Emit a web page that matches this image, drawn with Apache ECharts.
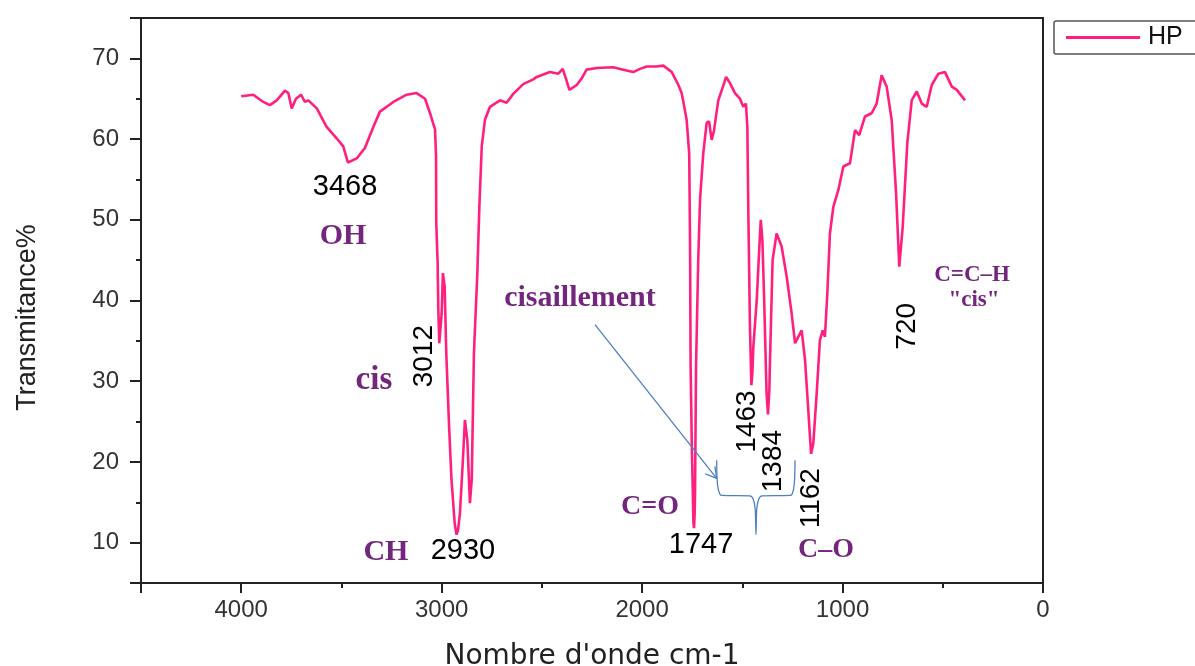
<!DOCTYPE html>
<html><head><meta charset="utf-8">
<script src="https://cdn.jsdelivr.net/npm/echarts@6/dist/echarts.min.js"></script>
<style>html,body{margin:0;padding:0;background:#fff}#c{width:1195px;height:666px}</style>
</head><body><div id="c"></div>
<script>
// ---- spectrum data (wavenumber cm-1, transmittance %) ----
const wavenumber = [4000,3970,3940,3890,3857,3823,3782,3765,3748,3727,3702,3682,3665,3623,3574,3524,3491,3468,3424,3383,3341,3308,3241,3175,3125,3083,3058,3042,3033,3028,3027,3020,3017,3012,3006,3000,2994,2985,2977,2963,2951,2935,2926,2918,2909,2895,2884,2872,2859,2850,2839,2822,2812,2800,2784,2759,2709,2676,2643,2593,2543,2526,2460,2418,2396,2380,2363,2326,2302,2277,2227,2144,2094,2044,2011,1977,1930,1894,1852,1844,1819,1803,1794,1778,1765,1761,1758,1752,1748,1744,1741,1738,1736,1731,1720,1711,1695,1678,1666,1653,1641,1620,1590,1581,1561,1537,1512,1495,1482,1475,1470,1462,1455,1450,1445,1428,1415,1408,1400,1392,1379,1372,1365,1362,1349,1329,1304,1279,1254,1237,1221,1204,1187,1171,1157,1146,1129,1113,1099,1088,1076,1063,1046,1021,996,963,938,917,888,855,830,805,780,755,733,717,700,677,655,630,605,580,555,522,489,455,430,389];
const transmittance = [65.3,65.4,65.5,64.6,64.2,64.8,66.0,65.7,63.8,65.0,65.5,64.6,64.8,63.8,61.5,60.1,59.1,57.1,57.6,58.9,61.5,63.4,64.6,65.5,65.7,65.0,63.2,61.9,61.2,57.8,49.6,44.6,39.2,34.7,36.5,38.4,43.4,41.7,33.5,24.4,17.8,12.4,11.0,11.6,13.6,19.8,25.2,22.7,14.9,17.8,33.5,43.4,51.6,59.1,62.4,64.0,64.8,64.5,65.6,66.8,67.4,67.7,68.3,68.1,68.7,67.5,66.1,66.7,67.5,68.6,68.8,68.9,68.6,68.3,68.7,69.0,69.0,69.1,68.3,68.1,66.7,65.7,64.6,62.4,58.2,47.5,31.8,22.0,17.3,12.5,11.8,13.5,16.1,31.8,45.0,52.5,58.2,62.0,62.2,59.9,61.1,64.8,67.0,67.7,66.9,65.7,65.0,64.0,64.4,61.5,50.8,36.8,29.5,31.0,34.3,40.1,46.7,50.0,47.5,40.9,28.5,25.9,29.0,32.6,45.0,48.3,46.7,43.0,38.4,34.7,35.5,36.3,32.6,26.4,21.0,22.3,28.5,35.1,36.3,35.5,40.9,48.3,51.6,53.7,56.6,57.0,61.1,60.5,62.8,63.2,64.4,67.9,66.5,62.4,53.3,44.2,49.1,59.5,64.8,65.9,64.4,64.0,66.7,68.1,68.3,66.5,66.1,64.8];

// ---- axes ----
const xRange = [0, 4500];
const yRange = [5, 75];
const xMinorStep = 500;
const yMinorStep = 5;
const xLabelValues = [4000,3000,2000,1000,0];
const yLabelValues = [10,20,30,40,50,60,70];

// ---- annotations (anchor in data units) ----
const peakNumText = ['3468','2930','1747'];
const peakNumX = [3482,2894,1706];
const peakNumY = [54.1,9.0,9.7];

const peakRotText = ['3012','1463','1384','1162','720'];
const peakRotX = [3088,1477,1347,1157,678];
const peakRotY = [33.1,25.0,20.1,15.5,36.8];

const groupText = ['OH','cis','CH','cisaillement','C=O','C–O'];
const groupX = [3492,3338,3278,2310,1961,1083];
const groupY = [47.9,30.1,8.8,40.3,14.5,9.1];

const smallText = ['C=C–H','"cis"'];
const smallX = [354,344];
const smallY = [43.2,40.1];

const arrowX = [2235,1628];
const arrowY = [37.0,17.97];
const arrowHeadX = [1684,1628,1637];
const arrowHeadY = [18.51,17.97,19.44];

const braceX = [1628,1624,1612,1600,1462,1446,1436,1432,1428,1418,1402,1264,1252,1241,1237];
const braceY = [20.2,17.2,16.0,15.85,15.8,15.4,14.2,11.0,14.2,15.4,15.8,15.85,16.0,17.2,20.2];

const purple = '#74267f';
const groupSizes = {'OH':30,'cis':33,'CH':30,'cisaillement':30,'C=O':28,'C–O':28};

function pts(xs, ys){ return xs.map((x,i)=>[x, ys[i]]); }
function labelData(xs, ys, ts){ return xs.map((x,i)=>({value:[x, ys[i]], name: ts[i]})); }

const chart = echarts.init(document.getElementById('c'));

const axisColor = '#222';
const hidden = {itemStyle:{color:'rgba(0,0,0,0)', opacity:1}, symbol:'circle', symbolSize:1, silent:true};
const gridRect = {left:141, right:152, top:18, bottom:83};

const option = {
  animation:false,
  backgroundColor:'#fff',
  grid:[
    Object.assign({show:true, borderColor:axisColor, borderWidth:2, backgroundColor:'transparent', outerBoundsMode:'none', containLabel:false}, gridRect),
    Object.assign({show:false, outerBoundsMode:'none', containLabel:false}, gridRect)
  ],
  legend:{
    data:[{name:'HP', icon:'rect'}], left:1054, top:21, itemWidth:74, itemHeight:3, itemGap:10, padding:[4,40,4,12],
    borderColor:'#555', borderWidth:1.5, borderRadius:2,
    textStyle:{fontSize:25, fontFamily:'Liberation Sans', color:'#111', padding:[0,0,0,3]}
  },
  xAxis:[
    {type:'value', gridIndex:0, min:xRange[0], max:xRange[1], splitNumber:5, inverse:true, position:'bottom',
     name:"Nombre d'onde cm-1", nameLocation:'middle', nameGap:60,
     nameTextStyle:{fontFamily:'DejaVu Sans', fontSize:28, color:'#222'},
     axisLine:{show:true, onZero:false, lineStyle:{color:axisColor, width:2}},
     axisTick:{show:true, length:10, lineStyle:{color:axisColor, width:2}},
     axisLabel:{fontSize:24, fontFamily:'Liberation Sans', color:'#333', margin:15,
       formatter:v=>xLabelValues.indexOf(v)>=0 ? String(v) : ''},
     splitLine:{show:false}},
    {type:'value', gridIndex:1, min:xRange[0], max:xRange[1], interval:xMinorStep, inverse:true, position:'bottom',
     axisLine:{show:false, onZero:false},
     axisTick:{show:true, length:5, lineStyle:{color:axisColor, width:2}},
     axisLabel:{show:false}, splitLine:{show:false}}
  ],
  yAxis:[
    {type:'value', gridIndex:0, min:yRange[0], max:yRange[1], splitNumber:7, position:'left',
     name:'Transmitance%', nameLocation:'middle', nameGap:100, nameRotate:90,
     nameTextStyle:{fontFamily:'Liberation Sans', fontSize:27, color:'#222', padding:[0,34,0,0]},
     axisLine:{show:true, onZero:false, lineStyle:{color:axisColor, width:2}},
     axisTick:{show:true, length:11, lineStyle:{color:axisColor, width:2}},
     axisLabel:{fontSize:24, fontFamily:'Liberation Sans', color:'#333', margin:22,
       formatter:v=>yLabelValues.indexOf(v)>=0 ? String(v) : ''},
     splitLine:{show:false}},
    {type:'value', gridIndex:1, min:yRange[0], max:yRange[1], interval:yMinorStep, position:'left',
     axisLine:{show:false, onZero:false},
     axisTick:{show:true, length:5, lineStyle:{color:axisColor, width:2}},
     axisLabel:{show:false}, splitLine:{show:false}}
  ],
  series:[
    {name:'HP', type:'line', data:pts(wavenumber, transmittance), symbol:'none',
     lineStyle:{color:'#ff1f7f', width:2.6}, itemStyle:{color:'#ff1f7f'}, silent:true},
    Object.assign({type:'scatter', data:labelData(peakNumX, peakNumY, peakNumText),
     label:{show:true, position:'inside', formatter:'{b}', fontSize:29, fontFamily:'Liberation Sans', color:'#000', textBorderWidth:0}}, hidden),
    Object.assign({type:'scatter', data:labelData(peakRotX, peakRotY, peakRotText),
     label:{show:true, position:'inside', rotate:90, formatter:'{b}', fontSize:28, fontFamily:'Liberation Sans', color:'#000', textBorderWidth:0}}, hidden),
    Object.assign({type:'scatter', data:labelData(groupX, groupY, groupText).map(d=>Object.assign(d,{label:{fontSize:groupSizes[d.name]}})),
     label:{show:true, position:'inside', formatter:'{b}', fontFamily:'Liberation Serif', fontWeight:'bold', color:purple, textBorderWidth:0}}, hidden),
    Object.assign({type:'scatter', data:labelData(smallX, smallY, smallText),
     label:{show:true, position:'inside', formatter:'{b}', fontSize:23, fontFamily:'Liberation Serif', fontWeight:'bold', color:purple, textBorderWidth:0}}, hidden),
    {type:'line', data:pts(arrowX, arrowY), symbol:'none', lineStyle:{color:'#4f7fbf', width:1.3}, silent:true},
    {type:'line', data:pts(arrowHeadX, arrowHeadY), symbol:'none', lineStyle:{color:'#4f7fbf', width:1.3}, silent:true},
    {type:'line', data:pts(braceX, braceY), symbol:'none', smooth:0.3, lineStyle:{color:'#4f7fbf', width:1.3}, silent:true}
  ]
};
chart.setOption(option);
</script>
</body></html>
